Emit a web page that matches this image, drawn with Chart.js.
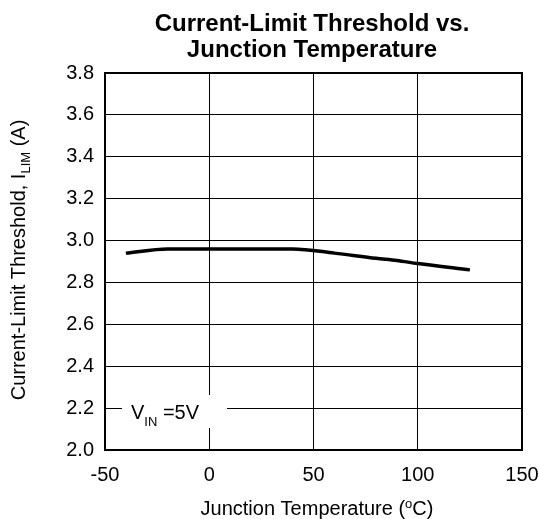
<!DOCTYPE html>
<html>
<head>
<meta charset="utf-8">
<script src="https://cdn.jsdelivr.net/npm/chart.js@4"></script>
<style>
  html, body { margin: 0; padding: 0; background: #fff; }
  #wrap { width: 539px; height: 519px; }
</style>
</head>
<body>
<div id="wrap"><canvas id="chart"></canvas></div>
<script>
// Data
const tempC = [-40, -20, 0, 25, 40, 60, 80, 90, 100, 125];
const limitA = [2.94, 2.96, 2.96, 2.96, 2.96, 2.94, 2.915, 2.905, 2.89, 2.86];
const xTicks = [-50, 0, 50, 100, 150];
const yTicks = [2.0, 2.2, 2.4, 2.6, 2.8, 3.0, 3.2, 3.4, 3.6, 3.8];

const FONT = 'Arial, "Liberation Sans", sans-serif';

// text with a raised or lowered small part, drawn left to right from x
function drawParts(ctx, parts, x, y) {
  for (const p of parts) {
    ctx.font = p.size + 'px ' + FONT;
    ctx.fillText(p.t, x, y + (p.dy || 0));
    x += ctx.measureText(p.t).width;
  }
}
function partsWidth(ctx, parts) {
  let w = 0;
  for (const p of parts) {
    ctx.font = p.size + 'px ' + FONT;
    w += ctx.measureText(p.t).width;
  }
  return w;
}

// draws the frame, title, axis titles and the V_IN note
const decorPlugin = {
  id: 'decor',
  afterDraw(chart) {
    const ctx = chart.ctx;
    const a = chart.chartArea;
    ctx.save();

    ctx.strokeStyle = '#000';
    ctx.lineWidth = 2;
    ctx.strokeRect(a.left, a.top, a.right - a.left, a.bottom - a.top);

    // title
    ctx.fillStyle = '#000';
    ctx.textAlign = 'center';
    ctx.textBaseline = 'alphabetic';
    ctx.font = 'bold 24px ' + FONT;
    ctx.fillText('Current-Limit Threshold vs.', 312, 31);
    ctx.fillText('Junction Temperature', 312, 57);

    ctx.textAlign = 'left';
    // x title with superscript o
    const xt = [
      { t: 'Junction Temperature (', size: 20 },
      { t: 'o', size: 13, dy: -7 },
      { t: 'C)', size: 20 }
    ];
    drawParts(ctx, xt, 317 - partsWidth(ctx, xt) / 2, 515);

    // y title with subscript LIM
    const yt = [
      { t: 'Current-Limit Threshold, I', size: 20 },
      { t: 'LIM', size: 13, dy: 5 },
      { t: ' (A)', size: 20 }
    ];
    ctx.translate(25, 260);
    ctx.rotate(-Math.PI / 2);
    drawParts(ctx, yt, -partsWidth(ctx, yt) / 2, 0);
    ctx.rotate(Math.PI / 2);
    ctx.translate(-25, -260);

    // V_IN note on white box
    ctx.fillStyle = '#fff';
    ctx.fillRect(122, 395, 105, 33);
    ctx.fillStyle = '#000';
    drawParts(ctx, [
      { t: 'V', size: 20 },
      { t: 'IN', size: 13, dy: 7 },
      { t: ' =5V', size: 20 }
    ], 131, 419);

    ctx.restore();
  }
};

new Chart(document.getElementById('chart'), {
  type: 'line',
  data: {
    datasets: [{
      data: tempC.map((t, i) => ({ x: t, y: limitA[i] })),
      borderColor: '#000',
      borderWidth: 3.5,
      pointRadius: 0,
      cubicInterpolationMode: 'monotone',
      fill: false
    }]
  },
  options: {
    responsive: true,
    maintainAspectRatio: false,
    animation: false,
    layout: { padding: { left: 0, top: 73, right: 17, bottom: 0 } },
    plugins: { legend: { display: false }, tooltip: { enabled: false }, title: { display: false } },
    scales: {
      x: {
        type: 'linear',
        min: -50, max: 150,
        afterBuildTicks: s => { s.ticks = xTicks.map(v => ({ value: v })); },
        afterFit: s => { s.height = 69; s.paddingLeft = 0; s.paddingRight = 0; },
        grid: { color: '#000', lineWidth: 1, drawTicks: false },
        border: { color: '#000', width: 2 },
        ticks: { color: '#000', font: { family: FONT, size: 20 }, padding: 13, maxRotation: 0 }
      },
      y: {
        type: 'linear',
        min: 2.0, max: 3.8,
        afterBuildTicks: s => { s.ticks = yTicks.map(v => ({ value: v })); },
        afterFit: s => { s.width = 105; s.paddingTop = 0; s.paddingBottom = 0; },
        grid: { color: '#000', lineWidth: 1, drawTicks: false },
        border: { color: '#000', width: 2 },
        ticks: { color: '#000', font: { family: FONT, size: 20 }, padding: 11, callback: v => v.toFixed(1) }
      }
    }
  },
  plugins: [decorPlugin]
});
</script>
</body>
</html>
